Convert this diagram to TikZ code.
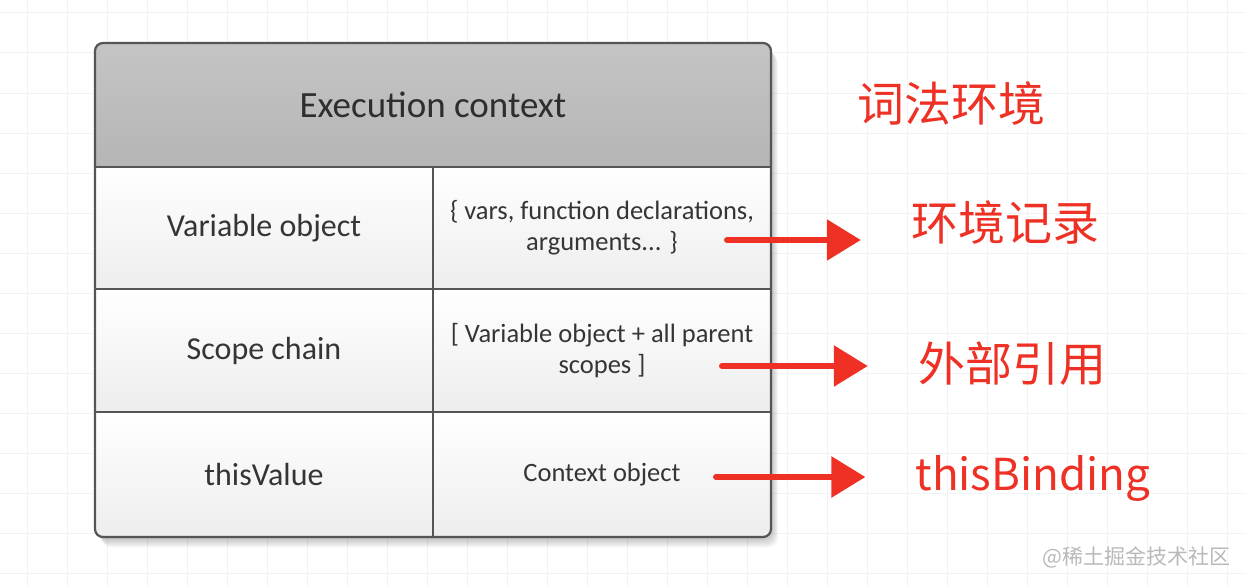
\documentclass[tikz,border=0pt]{standalone}
\usepackage{fontspec}
\setmainfont{Carlito}
\newfontfamily\cjk{Noto Sans CJK SC}
\usetikzlibrary{positioning,arrows.meta}
\definecolor{gridline}{HTML}{F0F4F5}
\definecolor{framegray}{HTML}{555555}
\definecolor{inkgray}{HTML}{353535}
\definecolor{notered}{HTML}{EE3124}
\tikzset{
  cellbox/.style={draw=framegray,line width=1.5,outer sep=0,inner sep=0,
    minimum width=338,top color=white,bottom color=gray!14,text=inkgray},
  valtext/.style={font=\fontsize{26.5}{31}\selectfont,align=center},
  redlabel/.style={text=notered,inner sep=0,font=\cjk\fontsize{47}{50}\selectfont},
  redarrow/.style={notered,line width=6,line cap=round,
    -{Triangle[length=34,width=40]},shorten >=50},
}
\begin{document}
\begin{tikzpicture}[x=1pt,y=-1pt]
  \useasboundingbox (0,0) rectangle (1246,586);
  % grid paper
  \fill[white] (0,0) rectangle (1246,586);
  \foreach \i in {0,...,30} \draw[gridline,line width=1] (27+40*\i,0) -- (27+40*\i,586);
  \foreach \j in {0,...,14} \draw[gridline,line width=1] (0,13+40*\j) -- (1246,13+40*\j);
  % soft shadow
  \foreach \s in {1,...,7}
    \fill[black,opacity=0.035,rounded corners=10] (95+\s,43+1.5*\s) rectangle (771+\s,537+1.5*\s);
  % table
  \begin{scope}
    \clip[rounded corners=8] (95,43) rectangle (771,537);
    \node[cellbox,minimum width=676,minimum height=124,top color=gray!46,bottom color=gray!58,
      text=black!82,font=\fontsize{37}{40}\selectfont] (hdr) at (433,105) {Execution context};
    \node[cellbox,minimum height=122,font=\fontsize{32}{36}\selectfont,anchor=north west]
      (varobj) at (hdr.south west) {Variable object};
    \node[cellbox,minimum height=122,valtext,right=0pt of varobj] (varval)
      {\{ vars, function declarations,\\ arguments... \}};
    \node[cellbox,minimum height=123,font=\fontsize{32}{36}\selectfont,below=0pt of varobj]
      (scope) {Scope chain};
    \node[cellbox,minimum height=123,valtext,right=0pt of scope] (scopeval)
      {[ Variable object + all parent\\ scopes ]};
    \node[cellbox,minimum height=126,font=\fontsize{32}{36}\selectfont,below=0pt of scope]
      (thisval) {thisValue};
    \node[cellbox,minimum height=126,valtext,right=0pt of thisval] (ctxobj) {Context object};
  \end{scope}
  \draw[framegray,line width=2.2,rounded corners=8] (95,43) rectangle (771,537);
  % red notes
  \node[redlabel] (lexenv) at (951,104) {词法环境};
  \node[redlabel] (envrec) at (1005,223) {环境记录};
  \node[redlabel] (outer) at (1012,364) {外部引用};
  \node[redlabel,font=\cjk\fontsize{44}{48}\selectfont] (binding) at (1033,478) {thisBinding};
  \coordinate (t1) at (727,240);
  \coordinate (t2) at (722,366);
  \coordinate (t3) at (716,477);
  \draw[redarrow] (t1) -- (t1 -| envrec.west);
  \draw[redarrow] (t2) -- (t2 -| outer.west);
  \draw[redarrow] (t3) -- (t3 -| binding.west);
  \node[text=gray!55,font=\cjk\fontsize{21}{24}\selectfont,anchor=east] (mark) at (1234,557) {@稀土掘金技术社区};
\end{tikzpicture}
\end{document}
